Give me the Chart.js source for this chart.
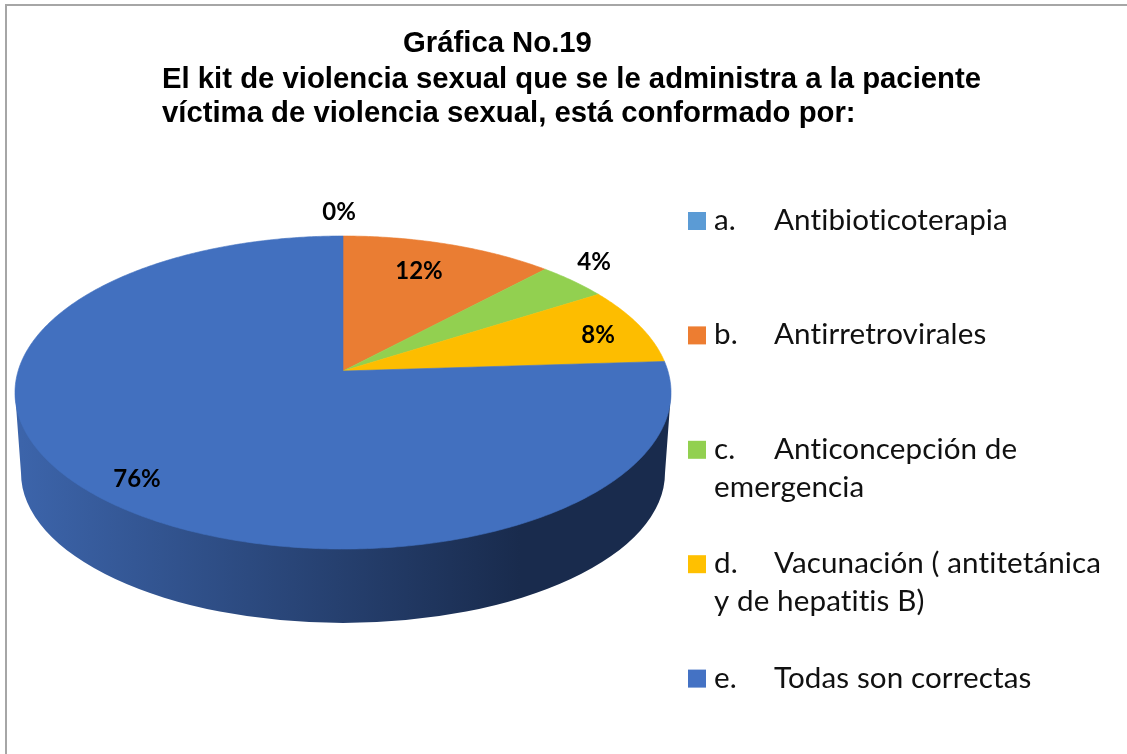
<!DOCTYPE html>
<html lang="es">
<head>
<meta charset="utf-8">
<title>Gráfica No.19</title>
<style>
    html, body { margin: 0; padding: 0; background: #fff; }
    canvas { display: block; }
</style>
<script src="https://cdn.jsdelivr.net/npm/chart.js@4/dist/chart.umd.min.js"></script>
</head>
<body>
<canvas id="kitChart" width="1127" height="754"></canvas>
<script>
const titleLines = [
    'Gráfica No.19',
    'El kit de violencia sexual que se le administra a la paciente',
    'víctima de violencia sexual, está conformado por:'
];
const letters = ['a.', 'b.', 'c.', 'd.', 'e.'];
const categories = [
    'Antibioticoterapia',
    'Antirretrovirales',
    'Anticoncepción de emergencia',
    'Vacunación ( antitetánica y de hepatitis B)',
    'Todas son correctas'
];
const percents = [0, 12, 4, 8, 76];
const sliceColors = ['#5B9BD5', '#EA7D33', '#92D050', '#FDBD00', '#4270BF'];
const legendColors = ['#5B9BD5', '#ED7D31', '#92D050', '#FFC000', '#4472C4'];

// hand placed percent labels, centre of each text
const percentLabelPos = [[339, 212], [419, 271], [594, 262], [598, 335], [137, 479]];

// tilted disc: centre point of the pie and the perspective terms
const disc = { cx: 343, cy: 371, a: 324.9, b: 153.55, k: 0.1374 };
// lower rim of the pie side
const rim = { topY: 392, cy: 473, rx: 322, ry: 150, topRx: 328 };

function project(angle, r) {
    const u = r * Math.cos(angle);
    const v = r * Math.sin(angle);
    const w = 1 - disc.k * v;
    return [disc.cx + disc.a * u / w, disc.cy + disc.b * v / w];
}

function drawSide(ctx) {
    const grad = ctx.createLinearGradient(disc.cx - rim.rx, 0, 520, 0);
    grad.addColorStop(0, '#3C64AA');
    grad.addColorStop(1, '#192B4D');
    ctx.fillStyle = grad;
    ctx.beginPath();
    ctx.moveTo(disc.cx - rim.topRx, rim.topY);
    ctx.ellipse(disc.cx, rim.cy, rim.rx, rim.ry, 0, Math.PI, 0, true);
    ctx.lineTo(disc.cx + rim.topRx, rim.topY);
    ctx.closePath();
    ctx.fill();
}

function drawSlice(ctx, arc, color) {
    const span = arc.endAngle - arc.startAngle;
    if (span <= 0) return;
    const steps = Math.max(2, Math.ceil(span / 0.01));
    ctx.beginPath();
    ctx.moveTo(disc.cx, disc.cy);
    for (let i = 0; i <= steps; i++) {
        const p = project(arc.startAngle + span * i / steps, 1);
        ctx.lineTo(p[0], p[1]);
    }
    ctx.closePath();
    ctx.fillStyle = color;
    ctx.strokeStyle = color;
    ctx.lineWidth = 0.6;
    ctx.fill();
    ctx.stroke();
}

// splits a legend entry so it stays inside the right side of the chart
function wrapLegend(ctx, text, x0, x1, maxX) {
    const lines = [];
    let line = '';
    let startX = x1;
    text.split(' ').forEach(word => {
        const next = line ? line + ' ' + word : word;
        if (line && startX + ctx.measureText(next).width > maxX) {
            lines.push(line);
            line = word;
            startX = x0;
        } else {
            line = next;
        }
    });
    lines.push(line);
    return lines;
}

const tiltedPie = {
    id: 'tiltedPie',
    beforeDraw(chart) {
        const ctx = chart.ctx;
        ctx.save();
        ctx.fillStyle = '#fff';
        ctx.fillRect(0, 0, chart.width, chart.height);
        // frame only shows on the top and left
        ctx.strokeStyle = '#A6A6A6';
        ctx.lineWidth = 2;
        ctx.beginPath();
        ctx.moveTo(6, chart.height);
        ctx.lineTo(6, 5);
        ctx.lineTo(chart.width, 5);
        ctx.stroke();
        ctx.restore();
    },
    beforeDatasetDraw(chart, args) {
        const ctx = chart.ctx;
        ctx.save();
        drawSide(ctx);
        args.meta.data.forEach((arc, i) => drawSlice(ctx, arc, sliceColors[i]));
        ctx.restore();
        return false; // arcs are already painted on the tilted disc
    },
    afterDraw(chart) {
        const ctx = chart.ctx;
        ctx.save();
        ctx.textBaseline = 'alphabetic';

        // title
        ctx.fillStyle = '#000';
        ctx.font = 'bold 29.3px "Liberation Sans"';
        ctx.fillText(titleLines[0], 403, 52);
        ctx.fillText(titleLines[1], 162, 88);
        ctx.fillText(titleLines[2], 162, 122);

        // percent labels
        ctx.font = 'bold 24px Lato';
        ctx.textAlign = 'center';
        ctx.textBaseline = 'middle';
        percents.forEach((v, i) => {
            ctx.fillText(v + '%', percentLabelPos[i][0], percentLabelPos[i][1]);
        });

        // legend
        ctx.textAlign = 'left';
        ctx.textBaseline = 'alphabetic';
        ctx.font = '29.6px Lato';
        ctx.letterSpacing = '0.1px'; // keeps "ti" from joining into a ligature
        const rowGap = 114.4;
        const lineGap = 38;
        chart.data.labels.forEach((label, i) => {
            const base = 230 + rowGap * i;
            ctx.fillStyle = legendColors[i];
            ctx.fillRect(688, base - 18, 18, 18);
            ctx.fillStyle = '#111';
            ctx.fillText(letters[i], 714, base);
            const lines = wrapLegend(ctx, label, 714, 774, 1112);
            lines.forEach((line, j) => {
                ctx.fillText(line, j === 0 ? 774 : 714, base + lineGap * j);
            });
        });
        ctx.restore();
    }
};

new Chart(document.getElementById('kitChart'), {
    type: 'pie',
    data: {
        labels: categories,
        datasets: [{ data: percents, backgroundColor: sliceColors, borderWidth: 0 }]
    },
    options: {
        responsive: false,
        animation: false,
        plugins: { legend: { display: false }, title: { display: false }, tooltip: { enabled: false } }
    },
    plugins: [tiltedPie]
});
</script>
</body>
</html>
